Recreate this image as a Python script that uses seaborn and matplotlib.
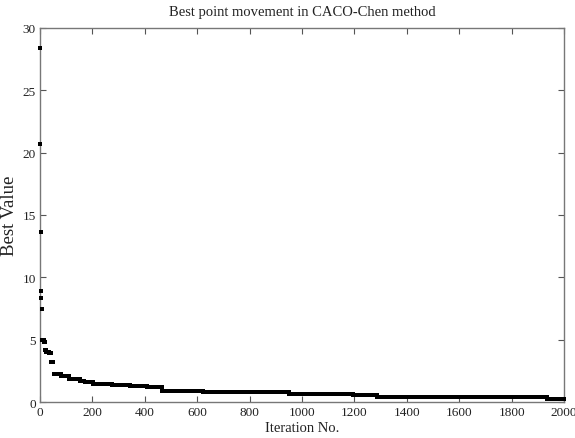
import numpy as np
import pandas as pd
import matplotlib
matplotlib.use("Agg")
import matplotlib.pyplot as plt
import seaborn as sns

# Step data: iteration where a new best value starts, and that best value
change_iters = [0, 1, 2, 3, 4, 6, 8, 16, 19, 24, 34, 42, 52, 80, 112, 152, 170,
                203, 275, 343, 408, 466, 623, 952, 1195, 1286, 1935]
best_values = [28.4, 20.7, 13.6, 8.9, 8.35, 7.45, 4.95, 4.85, 4.2, 4.05, 3.9,
               3.2, 2.25, 2.12, 1.85, 1.66, 1.58, 1.47, 1.39, 1.31, 1.23, 0.92,
               0.78, 0.62, 0.54, 0.38, 0.22]
n_iter = 2000

x_ticks = [0, 200, 400, 600, 800, 1000, 1200, 1400, 1600, 1800, 2000]
y_ticks = [0, 5, 10, 15, 20, 25, 30]

# per-iteration best value (held constant until the next improvement)
lengths = np.diff(change_iters + [n_iter])
iters = np.arange(n_iter)
vals = np.repeat(best_values, lengths)
df = pd.DataFrame({"Iteration": iters, "Best": vals})

sns.set_style("ticks")
plt.rcParams["font.family"] = ["Liberation Serif", "DejaVu Serif"]

fig = plt.figure(figsize=(5.75, 4.39), dpi=100)
ax = fig.add_axes([0.0696, 0.082, 0.9114, 0.852])

sns.scatterplot(data=df, x="Iteration", y="Best", ax=ax, color="black",
                marker="s", s=6, linewidth=0, legend=False, clip_on=False,
                zorder=3)

ax.set_xlim(0, 2000)
ax.set_ylim(0, 30)
ax.set_xticks(x_ticks)
ax.set_yticks(y_ticks)
ax.tick_params(direction="in", length=4, width=0.8, colors="#555555",
               labelcolor="#222222", labelsize=9.5, top=True, right=True, pad=3)
for sp in ax.spines.values():
    sp.set_visible(True)
    sp.set_color("#777777")
    sp.set_linewidth(1.0)
    sp.set_zorder(2)

ax.set_xlabel("Iteration No.", fontsize=10.5, color="#222222", labelpad=2)
ax.set_ylabel("Best Value", fontsize=13.5, color="#222222", labelpad=3)
ax.set_title("Best point movement in CACO-Chen method", fontsize=10.5,
             color="#222222", pad=9)

fig.savefig("out.png", dpi=100)
